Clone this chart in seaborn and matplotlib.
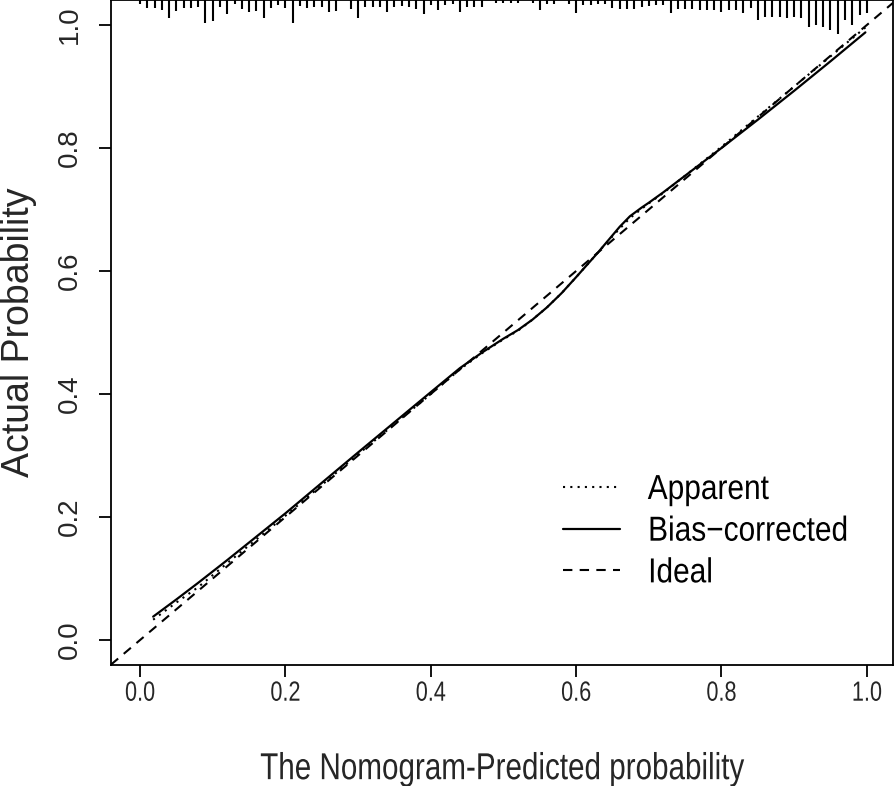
import numpy as np
import pandas as pd
import matplotlib
matplotlib.use('Agg')
import matplotlib.pyplot as plt
from matplotlib.patheffects import AbstractPathEffect
from matplotlib.transforms import Affine2D
import seaborn as sns

# Calibration curve values
pred_x = [0.018, 0.05, 0.08, 0.12, 0.2, 0.3, 0.4, 0.44, 0.47, 0.5, 0.52, 0.54, 0.56, 0.58,
          0.6, 0.615, 0.63, 0.645, 0.66, 0.674, 0.69, 0.7, 0.72, 0.75, 0.8, 0.85,
          0.9, 0.95, 0.998]
bias_corrected = [0.038, 0.066, 0.093, 0.130, 0.206, 0.305, 0.403, 0.442, 0.467, 0.490, 0.504,
                  0.521, 0.541, 0.564, 0.590, 0.610, 0.630, 0.651, 0.672, 0.689, 0.703,
                  0.711, 0.728, 0.755, 0.800, 0.846, 0.893, 0.941, 0.988]
apparent = [0.033, 0.061, 0.086, 0.125, 0.202, 0.302, 0.400, 0.440, 0.466, 0.489, 0.503,
            0.521, 0.541, 0.564, 0.590, 0.610, 0.630, 0.650, 0.669, 0.686, 0.701,
            0.710, 0.727, 0.755, 0.802, 0.851, 0.900, 0.949, 0.996]

# Rug (frequency of predicted probabilities) along the top
rug_x = [0.00, 0.01, 0.02, 0.03, 0.04, 0.05, 0.06, 0.07, 0.08, 0.09,
         0.10, 0.11, 0.12, 0.13, 0.14, 0.15, 0.16, 0.17, 0.18, 0.19,
         0.20, 0.21, 0.22, 0.23, 0.24, 0.25, 0.26, 0.27, 0.28, 0.29,
         0.30, 0.31, 0.32, 0.33, 0.34, 0.35, 0.36, 0.37, 0.38, 0.39,
         0.40, 0.41, 0.42, 0.43, 0.44, 0.45, 0.46, 0.47, 0.48, 0.49,
         0.50, 0.51, 0.52, 0.53, 0.54, 0.55, 0.56, 0.57, 0.58, 0.59,
         0.60, 0.61, 0.62, 0.63, 0.64, 0.65, 0.66, 0.67, 0.68, 0.69,
         0.70, 0.71, 0.72, 0.73, 0.74, 0.75, 0.76, 0.77, 0.78, 0.79,
         0.80, 0.81, 0.82, 0.83, 0.84, 0.85, 0.86, 0.87, 0.88, 0.89,
         0.90, 0.91, 0.92, 0.93, 0.94, 0.95, 0.96, 0.97, 0.98, 0.99, 1.00]
rug_freq = [4, 8, 8, 10, 18, 11, 8, 8, 7, 23,
            21, 7, 14, 4, 9, 12, 11, 18, 8, 5,
            8, 23, 6, 8, 7, 7, 12, 11, 0, 9,
            18, 7, 7, 7, 12, 7, 6, 7, 9, 14,
            5, 10, 5, 4, 12, 7, 7, 7, 0, 3,
            3, 3, 3, 0, 3, 10, 4, 4, 0, 4,
            13, 5, 5, 4, 4, 8, 9, 9, 9, 7,
            6, 5, 5, 13, 9, 9, 9, 10, 10, 10,
            12, 10, 10, 13, 8, 20, 17, 17, 17, 18,
            17, 18, 27, 25, 27, 30, 34, 20, 25, 15, 13]

x_ticks = [0.0, 0.2, 0.4, 0.6, 0.8, 1.0]
y_ticks = [0.0, 0.2, 0.4, 0.6, 0.8, 1.0]


# squeeze text horizontally (the reference text looks condensed)
class Squeeze(AbstractPathEffect):
    def __init__(self, sx=0.8, center=True):
        super().__init__()
        self.sx = sx
        self.center = center

    def draw_path(self, renderer, gc, tpath, affine, rgbFace=None):
        ext = tpath.get_extents()
        cx = (ext.x0 + ext.x1) / 2 if self.center else ext.x0
        t = Affine2D().translate(-cx, 0).scale(self.sx, 1).translate(cx, 0) + affine
        renderer.draw_path(gc, tpath, t, rgbFace)


sns.set_style('ticks')
plt.rcParams['font.family'] = ['Liberation Sans', 'DejaVu Sans']

W, H = 896, 786
fig = plt.figure(figsize=(W / 100, H / 100), dpi=100)
ax = fig.add_axes([111 / W, 1 - 664.6 / H, (893 - 111) / W, 664.2 / H])

xlim = (-0.04, 1.036)
ylim = (-0.04, 1.04)

df = pd.DataFrame({'x': pred_x, 'bias': bias_corrected, 'app': apparent})

sns.lineplot(data=df, x='x', y='app', ax=ax, color='black', lw=1.5,
             estimator=None, label='Apparent')
ax.lines[-1].set_dashes((1, 2.5))
sns.lineplot(data=df, x='x', y='bias', ax=ax, color='black', lw=1.6,
             estimator=None, label='Bias\u2212corrected')
ideal = ax.axline((0, 0), (1, 1), color='black', lw=1.5, label='Ideal')
ideal.set_dashes((4.5, 3.5))

# rug at top of the plot
rug_scale = 0.055 / max(rug_freq)
rug_h = np.array(rug_freq) * rug_scale
ax.vlines(rug_x, ylim[1] - rug_h, ylim[1], color='black', lw=1.5)

ax.set_xlim(*xlim)
ax.set_ylim(*ylim)
ax.set_xticks(x_ticks)
ax.set_yticks(y_ticks)
ax.set_xticklabels([f'{v:.1f}' for v in x_ticks], fontsize=20)
ax.set_yticklabels([f'{v:.1f}' for v in y_ticks], fontsize=20, rotation=90,
                   va='center')
ax.tick_params(axis='both', direction='out', length=8.6, width=1.3, color='black')
ax.tick_params(axis='x', pad=3)
ax.tick_params(axis='y', pad=12)
for tk in ax.xaxis.get_major_ticks():
    tk.label1.set_path_effects([Squeeze(0.78)])

for sp in ax.spines.values():
    sp.set_visible(True)
    sp.set_linewidth(1.3)
    sp.set_color('black')

ax.set_xlabel('The Nomogram-Predicted probability', fontsize=27, labelpad=32)
ax.xaxis.label.set_path_effects([Squeeze(0.79)])
ax.set_ylabel('Actual Probability', fontsize=27, labelpad=14)

leg = ax.legend(loc='upper left', bbox_to_anchor=(563 / W, 1 - 473 / H),
                bbox_transform=fig.transFigure, frameon=False, fontsize=25,
                handlelength=1.64, handletextpad=0.8, borderpad=0,
                borderaxespad=0, labelspacing=0.25)
for t in leg.get_texts():
    t.set_color('black')
    t.set_path_effects([Squeeze(0.86, center=False)])

plt.savefig('out.png', dpi=100)
